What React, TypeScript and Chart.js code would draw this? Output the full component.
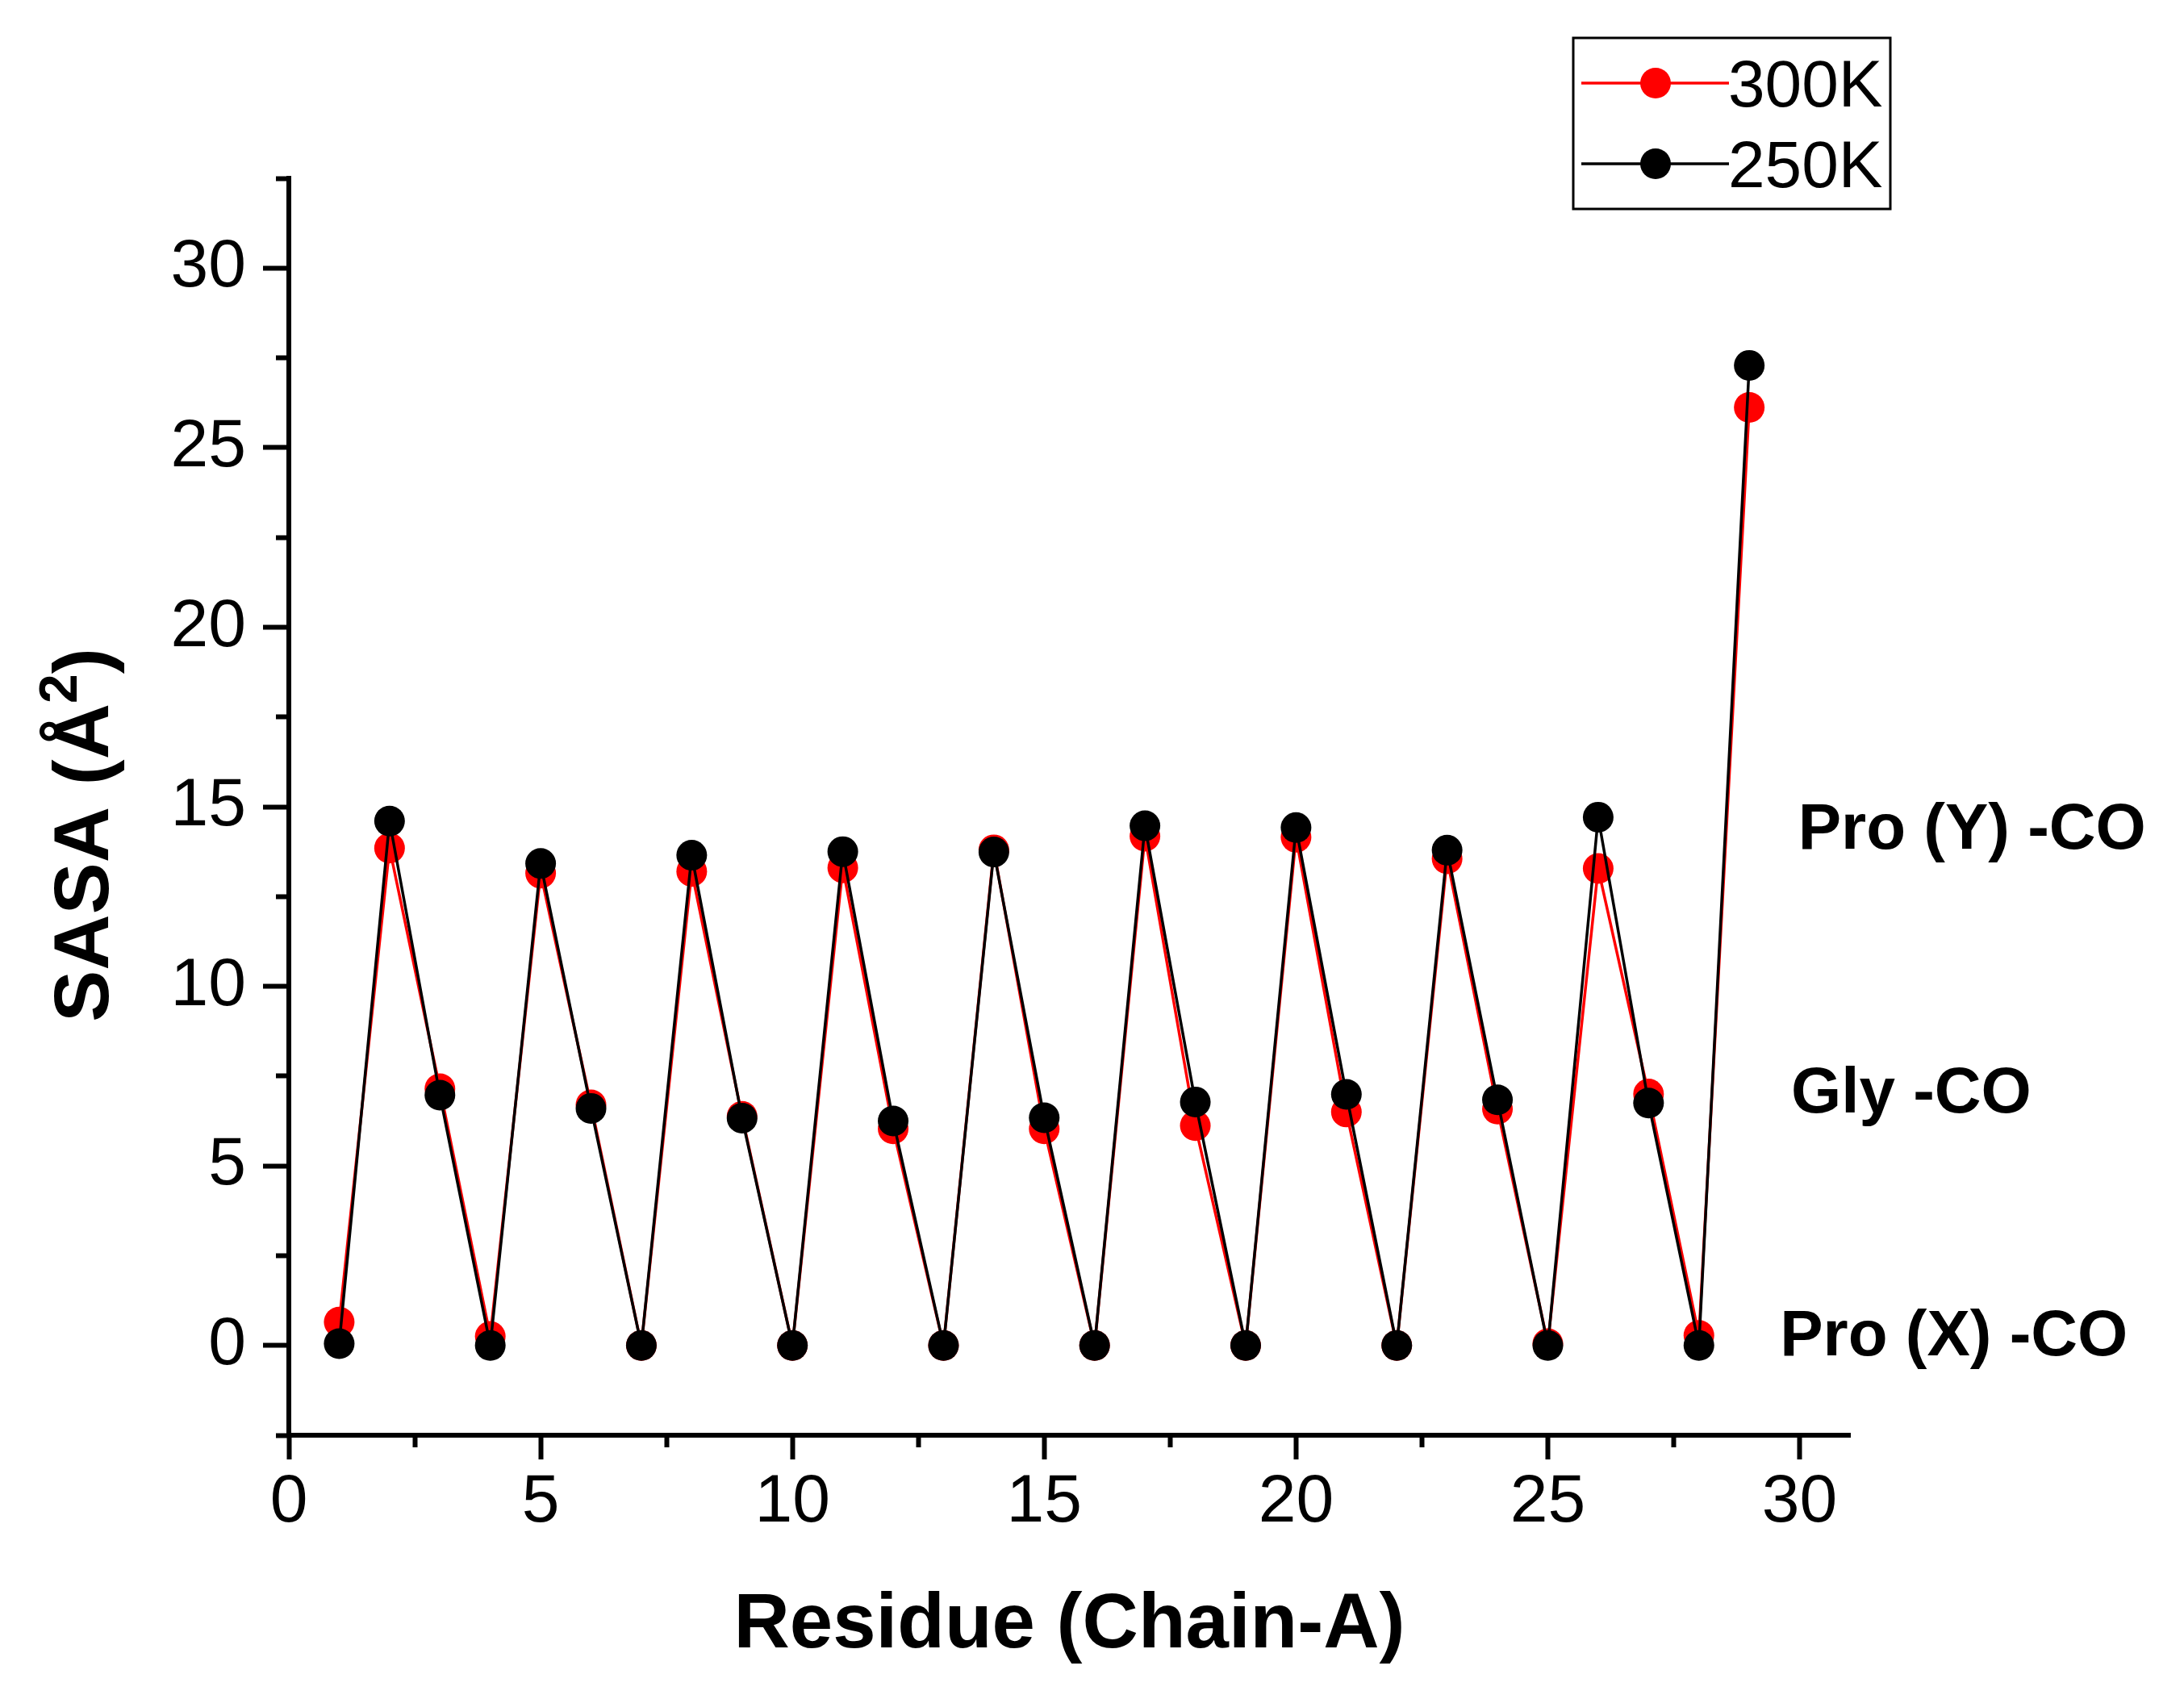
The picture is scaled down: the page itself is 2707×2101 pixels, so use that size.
import React, { useEffect, useRef } from "react";
import { Chart, registerables } from "chart.js";

Chart.register(...registerables);

// ---------- data ----------
const residues = [1, 2, 3, 4, 5, 6, 7, 8, 9, 10, 11, 12, 13, 14, 15, 16, 17, 18, 19, 20, 21, 22, 23, 24, 25, 26, 27, 28, 29];
const sasa300K = [0.65, 13.85, 7.15, 0.25, 13.15, 6.7, 0, 13.2, 6.38, 0, 13.3, 6.03, 0, 13.8, 6.03, 0, 14.18, 6.12, 0, 14.15, 6.5, 0, 13.55, 6.58, 0.05, 13.28, 7.0, 0.28, 26.12];
const sasa250K = [0.05, 14.6, 6.97, 0, 13.42, 6.6, 0, 13.65, 6.33, 0, 13.75, 6.25, 0, 13.74, 6.34, 0, 14.47, 6.78, 0, 14.42, 6.99, 0, 13.79, 6.84, 0, 14.71, 6.75, 0, 27.29];
const seriesLabels = ["300K", "250K"];
const seriesColors = ["#ff0000", "#000000"];

const xMajorTicks = [0, 5, 10, 15, 20, 25, 30];
const xMinorTicks = [2.5, 7.5, 12.5, 17.5, 22.5, 27.5];
const yMajorTicks = [0, 5, 10, 15, 20, 25, 30];
const yMinorTicks = [-2.5, 2.5, 7.5, 12.5, 17.5, 22.5, 27.5, 32.5];

const regionLabels = ["Pro (Y) -CO", "Gly -CO", "Pro (X) -CO"];
const regionLabelX = [29.97, 29.83, 29.61];
const regionLabelY = [13.84, 6.49, -0.27];

const xTitle = "Residue (Chain-A)";
const yTitleMain = "SASA (Å";
const yTitleSup = "2";
const yTitleEnd = ")";

const FONT = '"Liberation Sans", Arial, sans-serif';

const overlayPlugin = {
  id: "overlay",
  afterDraw(chart: any) {
    const ctx = chart.ctx as CanvasRenderingContext2D;
    const xs = chart.scales.x;
    const ys = chart.scales.y;
    const area = chart.chartArea;

    // Y axis title (rotated), with superscript
    ctx.save();
    const mainFont = `bold 96px ${FONT}`;
    const supFont = `bold 66px ${FONT}`;
    ctx.font = mainFont;
    const w1 = ctx.measureText(yTitleMain).width;
    const w3 = ctx.measureText(yTitleEnd).width;
    ctx.font = supFont;
    const w2 = ctx.measureText(yTitleSup).width;
    const total = w1 + w2 + w3;
    const cy = (area.top + area.bottom) / 2 + 35;
    ctx.translate(134, cy);
    ctx.rotate(-Math.PI / 2);
    ctx.fillStyle = "#000";
    ctx.textBaseline = "alphabetic";
    ctx.textAlign = "left";
    let sx = -total / 2;
    ctx.font = mainFont;
    ctx.fillText(yTitleMain, sx, 0);
    sx += w1;
    ctx.font = supFont;
    ctx.fillText(yTitleSup, sx, -39);
    sx += w2;
    ctx.font = mainFont;
    ctx.fillText(yTitleEnd, sx, 0);
    ctx.restore();

    // Region annotations
    ctx.save();
    ctx.font = `bold 80px ${FONT}`;
    ctx.fillStyle = "#000";
    ctx.textAlign = "left";
    ctx.textBaseline = "alphabetic";
    regionLabels.forEach((t, i) => {
      ctx.fillText(t, xs.getPixelForValue(regionLabelX[i]), ys.getPixelForValue(regionLabelY[i]));
    });
    ctx.restore();

    // Legend
    ctx.save();
    ctx.strokeStyle = "#000";
    ctx.lineWidth = 3;
    ctx.strokeRect(1950, 47, 393, 212);
    const rowY = [103, 203];
    seriesLabels.forEach((lab, i) => {
      const y = rowY[i];
      ctx.strokeStyle = seriesColors[i];
      ctx.lineWidth = 3.5;
      ctx.beginPath();
      ctx.moveTo(1960, y);
      ctx.lineTo(2143, y);
      ctx.stroke();
      ctx.fillStyle = seriesColors[i];
      ctx.beginPath();
      ctx.arc(2052, y, 19, 0, Math.PI * 2);
      ctx.fill();
      ctx.fillStyle = "#000";
      ctx.font = `82px ${FONT}`;
      ctx.textAlign = "left";
      ctx.textBaseline = "alphabetic";
      ctx.fillText(lab, 2142, y + 29);
    });
    ctx.restore();
  },
};

export default function App() {
  const canvasRef = useRef<HTMLCanvasElement | null>(null);

  useEffect(() => {
    document.body.style.margin = "0";
    const canvas = canvasRef.current;
    if (!canvas) return;

    const tickGrid = (len: number) => ({
      display: true,
      drawOnChartArea: false,
      drawTicks: true,
      tickLength: len,
      tickWidth: 6,
      tickColor: "#000",
      color: "#000",
    });

    const chart = new Chart(canvas, {
      type: "line",
      data: {
        datasets: [
          {
            label: seriesLabels[0],
            data: residues.map((r, i) => ({ x: r, y: sasa300K[i] })),
            borderColor: seriesColors[0],
            backgroundColor: seriesColors[0],
            pointBackgroundColor: seriesColors[0],
            borderWidth: 3.5,
            pointRadius: 19,
            pointHoverRadius: 19,
            pointBorderWidth: 0,
            tension: 0,
            order: 2,
            xAxisID: "x",
            yAxisID: "y",
          },
          {
            label: seriesLabels[1],
            data: residues.map((r, i) => ({ x: r, y: sasa250K[i] })),
            borderColor: seriesColors[1],
            backgroundColor: seriesColors[1],
            pointBackgroundColor: seriesColors[1],
            borderWidth: 3.5,
            pointRadius: 19,
            pointHoverRadius: 19,
            pointBorderWidth: 0,
            tension: 0,
            order: 1,
            xAxisID: "x",
            yAxisID: "y",
          },
        ],
      },
      options: {
        responsive: false,
        devicePixelRatio: 1,
        animation: false,
        events: [],
        layout: { padding: { top: 221, right: 414, bottom: 0, left: 0 } },
        plugins: {
          legend: { display: false },
          tooltip: { enabled: false },
        },
        scales: {
          xMinor: {
            type: "linear",
            axis: "x",
            position: "bottom",
            min: 0,
            max: 31,
            weight: 0,
            afterBuildTicks: (s: any) => {
              s.ticks = xMinorTicks.map((v) => ({ value: v }));
            },
            afterFit: (s: any) => {
              s.height = 0;
            },
            ticks: { display: false },
            grid: tickGrid(15),
            border: { display: false },
          },
          x: {
            type: "linear",
            axis: "x",
            position: "bottom",
            min: 0,
            max: 31,
            weight: 1,
            afterBuildTicks: (s: any) => {
              s.ticks = xMajorTicks.map((v) => ({ value: v }));
            },
            afterFit: (s: any) => {
              s.height = 322;
            },
            ticks: {
              autoSkip: false,
              maxRotation: 0,
              padding: 12,
              color: "#000",
              font: { family: FONT, size: 84, lineHeight: 1 },
            },
            grid: tickGrid(30),
            border: { display: true, width: 6, color: "#000" },
            title: {
              display: true,
              text: xTitle,
              color: "#000",
              font: { family: FONT, size: 96, weight: "bold", lineHeight: 1 },
              padding: { top: 0, bottom: 37 },
            },
          },
          yMinor: {
            type: "linear",
            axis: "y",
            position: "left",
            min: -2.5,
            max: 32.5,
            weight: 0,
            afterBuildTicks: (s: any) => {
              s.ticks = yMinorTicks.map((v) => ({ value: v }));
            },
            afterFit: (s: any) => {
              s.width = 0;
            },
            ticks: { display: false },
            grid: tickGrid(16),
            border: { display: false },
          },
          y: {
            type: "linear",
            axis: "y",
            position: "left",
            min: -2.5,
            max: 32.5,
            weight: 1,
            afterBuildTicks: (s: any) => {
              s.ticks = yMajorTicks.map((v) => ({ value: v }));
            },
            afterFit: (s: any) => {
              s.width = 358;
            },
            ticks: {
              autoSkip: false,
              padding: 21,
              color: "#000",
              font: { family: FONT, size: 84, lineHeight: 1 },
            },
            grid: tickGrid(32),
            border: { display: true, width: 6, color: "#000" },
          },
        },
      } as any,
      plugins: [overlayPlugin],
    });

    return () => {
      chart.destroy();
    };
  }, []);

  return (
    <div style={{ width: 2707, height: 2101, background: "#fff" }}>
      <canvas ref={canvasRef} width={2707} height={2101} style={{ width: 2707, height: 2101, display: "block" }} />
    </div>
  );
}
